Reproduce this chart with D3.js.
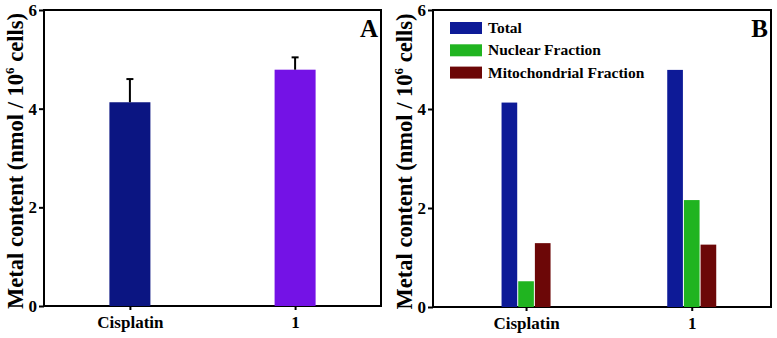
<!DOCTYPE html>
<html>
<head>
<meta charset="utf-8">
<title>Metal content in cells</title>
<script src="https://d3js.org/d3.v7.min.js"></script>
<style>
  body { margin: 0; background: #fff; }
</style>
</head>
<body>
<svg id="chart" width="777" height="338"></svg>
<script>

// data
var categories = ["Cisplatin", "1"];
var totalA = [4.13, 4.79];
var errorA = [0.47, 0.25];
var colorsA = ["#0b1582", "#7412e6"];

var seriesB = ["Total", "Nuclear Fraction", "Mitochondrial Fraction"];
var valuesB = [
  [4.13, 0.52, 1.29],   // Cisplatin
  [4.79, 2.16, 1.26]    // 1
];
var colorsB = ["#0d1a97", "#20b420", "#6c0707"];
var yTicks = [0, 2, 4, 6];

var FONT = "'Liberation Serif', 'Times New Roman', Times, serif";
var svg = d3.select("#chart");

function panel(left, right, top, bottom, align, letter) {
  var g = svg.append("g");
  var y = d3.scaleLinear().domain([0, 6]).range([bottom, top]);
  var x = d3.scalePoint().domain(categories).range([left, right]).padding(0.52).align(align);

  // y axis
  var ya = g.append("g").attr("transform", "translate(" + left + ",0)")
    .call(d3.axisLeft(y).tickValues(yTicks).tickSize(5).tickPadding(2).tickFormat(d3.format("d")));
  // x axis
  var xa = g.append("g").attr("transform", "translate(0," + bottom + ")")
    .call(d3.axisBottom(x).tickSize(4).tickPadding(6));
  [ya, xa].forEach(function(a) {
    a.attr("font-family", null);
    a.select(".domain").remove();
    a.selectAll("line").attr("stroke", "#000").attr("stroke-width", 2);
    a.selectAll("text").attr("fill", "#000").style("font-size", "17px");
  });

  // frame
  g.append("rect")
    .attr("x", left).attr("y", top)
    .attr("width", right - left).attr("height", bottom - top)
    .attr("fill", "none").attr("stroke", "#000").attr("stroke-width", 2);

  // y label
  var lab = g.append("text")
    .attr("transform", "translate(" + (left - 21) + "," + ((top + bottom) / 2 + 3) + ") rotate(-90)")
    .attr("text-anchor", "middle")
    .style("font-size", "22.5px");
  lab.append("tspan").text("Metal content (nmol / 10");
  lab.append("tspan").attr("dy", -9).style("font-size", "13px").text("6");
  lab.append("tspan").attr("dy", 9).text(" cells)");

  g.append("text")
    .attr("x", right - 3).attr("y", top + 27)
    .attr("text-anchor", "end")
    .style("font-size", "25px")
    .text(letter);

  return {g: g, x: x, y: y};
}

// ---- panel A ----
var A = panel(44, 381, 10, 306, 0.5, "A");
var barW = 41;

A.g.selectAll(".bar")
  .data(categories)
  .enter().append("rect")
    .attr("class", "bar")
    .attr("x", function(d) { return A.x(d) - barW / 2; })
    .attr("y", function(d, i) { return A.y(totalA[i]); })
    .attr("width", barW)
    .attr("height", function(d, i) { return A.y(0) - A.y(totalA[i]); })
    .attr("fill", function(d, i) { return colorsA[i]; });

var err = A.g.selectAll(".err")
  .data(categories)
  .enter().append("g").attr("class", "err");
err.append("line")
  .attr("x1", function(d) { return A.x(d); })
  .attr("x2", function(d) { return A.x(d); })
  .attr("y1", function(d, i) { return A.y(totalA[i]); })
  .attr("y2", function(d, i) { return A.y(totalA[i] + errorA[i]); })
  .attr("stroke", "#000").attr("stroke-width", 2);
err.append("line")
  .attr("x1", function(d) { return A.x(d) - 3.5; })
  .attr("x2", function(d) { return A.x(d) + 3.5; })
  .attr("y1", function(d, i) { return A.y(totalA[i] + errorA[i]); })
  .attr("y2", function(d, i) { return A.y(totalA[i] + errorA[i]); })
  .attr("stroke", "#000").attr("stroke-width", 2);

// ---- panel B ----
var B = panel(433, 771, 10, 307, 0.54, "B");
var x1 = d3.scaleBand().domain(seriesB).range([-24.5, 24.5]).paddingInner(0.06);

var groups = B.g.selectAll(".grp")
  .data(categories)
  .enter().append("g")
    .attr("class", "grp")
    .attr("transform", function(d) { return "translate(" + B.x(d) + ",0)"; });

groups.selectAll("rect")
  .data(function(d, i) { return valuesB[i].map(function(v, j) { return {s: seriesB[j], v: v, c: colorsB[j]}; }); })
  .enter().append("rect")
    .attr("x", function(d) { return x1(d.s); })
    .attr("y", function(d) { return B.y(d.v); })
    .attr("width", x1.bandwidth())
    .attr("height", function(d) { return B.y(0) - B.y(d.v); })
    .attr("fill", function(d) { return d.c; });

// legend
var leg = B.g.selectAll(".leg")
  .data(seriesB)
  .enter().append("g")
    .attr("class", "leg")
    .attr("transform", function(d, i) { return "translate(450," + (22 + i * 22.3) + ")"; });
leg.append("rect")
  .attr("width", 32).attr("height", 12)
  .attr("fill", function(d, i) { return colorsB[i]; });
leg.append("text")
  .attr("x", 38).attr("y", 11)
  .style("font-size", "15.5px")
  .text(function(d) { return d; });

// every text in the same bold serif
svg.selectAll("text")
  .style("font-family", FONT)
  .style("font-weight", "bold");

</script>
</body>
</html>
